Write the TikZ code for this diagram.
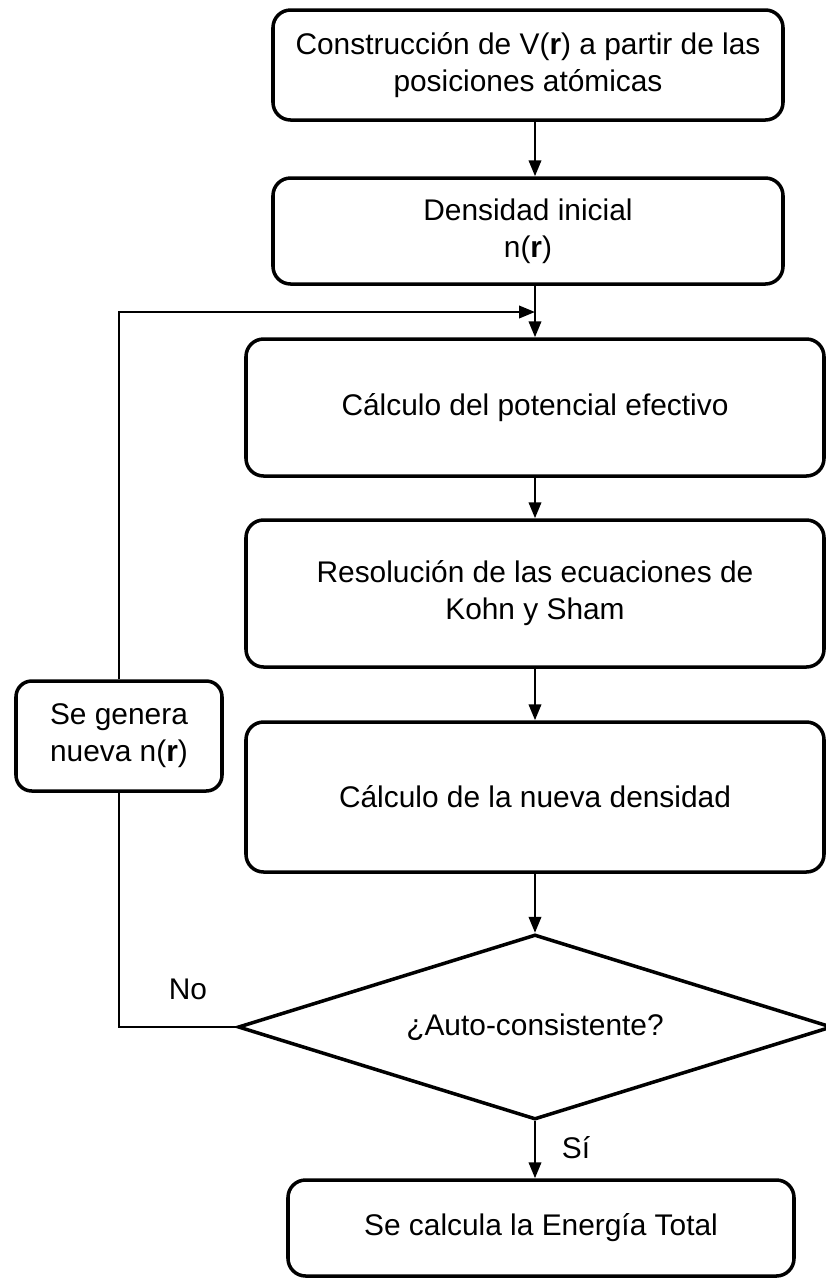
\documentclass[tikz,border=0pt]{standalone}
\usepackage{fontspec}
\setmainfont{Liberation Sans}
\usepackage{tikz}
\usetikzlibrary{shapes.geometric, arrows.meta}
\tikzset{
  step_box/.style={rectangle, rounded corners=10pt, line width=2pt, draw=black, fill=white, align=center, inner sep=2pt},
  loop_box/.style={rectangle, rounded corners=9pt, line width=2pt, draw=black, fill=white, align=center, inner sep=2pt},
  test_diamond/.style={diamond, shape aspect=3.2, line width=2pt, draw=black, fill=white, inner sep=0pt},
  edge/.style={line width=1.4pt},
  arrow_edge/.style={line width=1.4pt, -{Triangle[length=9pt, width=7pt]}},
  label_text/.style={inner sep=0pt}
}

\begin{document}
\begin{tikzpicture}[font=\fontsize{17}{21}\selectfont]
        \useasboundingbox (0, 0) rectangle (16.52, -25.62);
        \node[step_box, minimum width=10.2cm, minimum height=2.2cm] (build) at (10.56, -1.30) {Construcción de V(\textbf{r}) a partir de las\\posiciones atómicas};
        \node[step_box, minimum width=10.2cm, minimum height=2.12cm] (init) at (10.56, -4.62) {Densidad inicial\\n(\textbf{r})};
        \node[step_box, minimum width=11.56cm, minimum height=2.74cm] (veff) at (10.70, -8.15) {Cálculo del potencial efectivo};
        \node[step_box, minimum width=11.56cm, minimum height=2.94cm] (ks) at (10.70, -11.87) {Resolución de las ecuaciones de\\Kohn y Sham};
        \node[step_box, minimum width=11.56cm, minimum height=3.0cm] (dens) at (10.70, -15.94) {Cálculo de la nueva densidad};
        \node[loop_box, minimum width=4.12cm, minimum height=2.2cm] (newn) at (2.38, -14.72) {Se genera\\nueva n(\textbf{r})};
        \node[test_diamond, minimum width=11.88cm, minimum height=3.7cm] (test) at (10.70, -20.54) {¿Auto-consistente?};
        \node[step_box, minimum width=10.12cm, minimum height=1.92cm] (etot) at (10.82, -24.56) {Se calcula la Energía Total};
        \coordinate (join) at (10.70, -6.24);
        \draw[arrow_edge] (build.south -| veff.north) -- (init.north -| veff.north);
        \draw[arrow_edge] (init.south -| veff.north) -- (veff.north);
        \draw[arrow_edge] (veff) -- (ks);
        \draw[arrow_edge] (ks) -- (dens);
        \draw[arrow_edge] (dens) -- (test);
        \draw[arrow_edge] (test.south) -- (etot.north -| test.south);
        \draw[edge] (test.west) -| (newn.south);
        \draw[arrow_edge] (newn.north) |- (join);
        \node[label_text] (no) at (3.76, -19.78) {No};
        \node[label_text] (si) at (11.52, -22.96) {Sí};
    \end{tikzpicture}
\end{document}
